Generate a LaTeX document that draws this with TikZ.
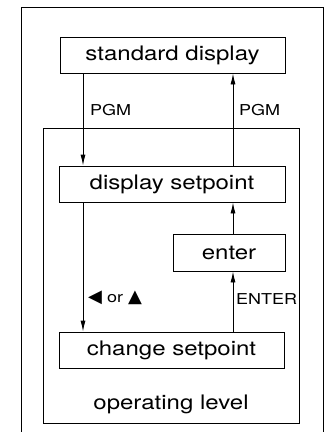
\documentclass[tikz,border=0pt]{standalone}
\usepackage{fontspec}
\setmainfont[FakeStretch=1.2]{TeX Gyre Heros}
\newfontfamily\symfont{DejaVu Sans}
\usetikzlibrary{arrows.meta}
\begin{document}
\begin{tikzpicture}[x=1pt,y=-1pt,
  box/.style={draw, line width=0.9pt, inner sep=0pt, font=\fontsize{20}{22}\selectfont},
  lbl/.style={inner sep=0pt, anchor=west, font=\fontsize{15}{17}\selectfont},
  arr/.style={line width=0.9pt, -{Latex[length=11pt,width=5pt]}},
  frame/.style={line width=0.8pt}
]
\useasboundingbox (0,0) rectangle (326,432);
% outer frame (bottom edge off the picture)
\coordinate (fbl) at (21,434);
\coordinate (ftl) at (21,7);
\coordinate (ftr) at (323,7);
\coordinate (fbr) at (323,434);
\draw[frame] (fbl) -- (ftl) -- (ftr) -- (fbr);
% operating level box
\node (op) [draw, line width=0.9pt, minimum width=256pt, minimum height=295pt, inner sep=0pt] at (171,275.5) {};
\node (oplbl) [inner sep=0pt, font=\fontsize{20}{22}\selectfont] at (171,404) {operating level};
% state boxes
\node (std) [box, minimum width=225pt, minimum height=36pt] at (172.5,55) {standard display};
\node (disp) [box, minimum width=226pt, minimum height=36pt] at (172,184) {display setpoint};
\node (ent) [box, minimum width=112pt, minimum height=37pt] at (229,252.5) {enter};
\node (chg) [box, minimum width=225pt, minimum height=36pt] at (171.5,350) {change setpoint};
% connector columns
\coordinate (L) at (83,0);
\coordinate (R) at (233,0);
\draw[arr] (std.south -| L) -- (disp.north -| L);
\draw[arr] (disp.north -| R) -- (std.south -| R);
\draw[arr] (disp.south -| L) -- (chg.north -| L);
\draw[arr] (chg.north -| R) -- (ent.south -| R);
\draw[arr] (ent.north -| R) -- (disp.south -| R);
% labels
\node (pgm1) [lbl] at (90,110) {PGM};
\node (pgm2) [lbl] at (239,110) {PGM};
\node (keys) [lbl] at (88,298) {{\symfont\fontsize{18}{18}\selectfont ◀} or {\symfont\fontsize{18}{18}\selectfont ▲}};
\node (entk) [lbl] at (236,299) {ENTER};
\end{tikzpicture}
\end{document}
